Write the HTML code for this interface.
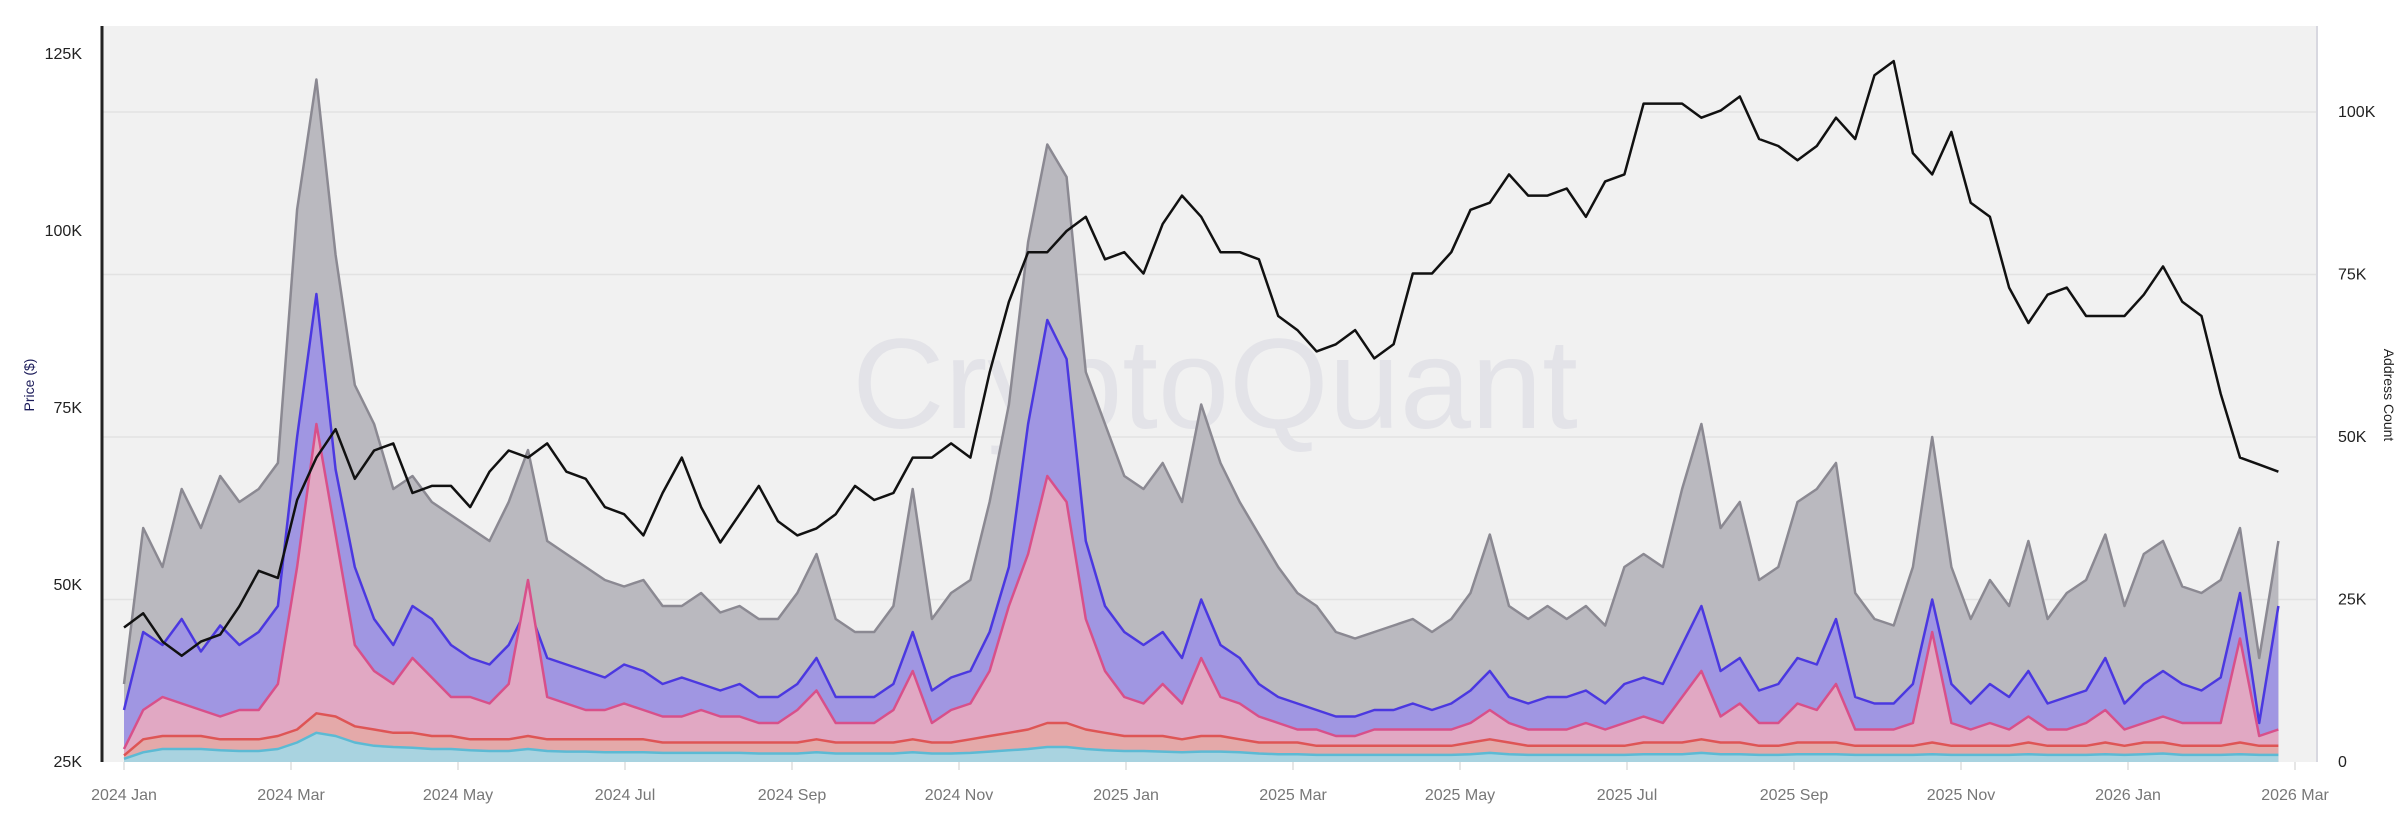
<!DOCTYPE html>
<html><head><meta charset="utf-8"><style>
html,body{margin:0;padding:0;background:#fff;}
svg{display:block;font-family:"Liberation Sans",sans-serif;}
</style></head><body>
<svg id="chart" width="2403" height="814" xmlns="http://www.w3.org/2000/svg">
<rect x="102" y="26" width="2215" height="736" fill="#f1f1f1"/>
<g id="grid"></g>
<text x="1215" y="428" text-anchor="middle" font-size="128" fill="#e3e3e8" font-family="Liberation Sans, sans-serif">CryptoQuant</text>
<g id="areas"></g>
<g id="priceg"></g>
<line x1="102" y1="26" x2="102" y2="762" stroke="#222" stroke-width="3"/>
<line x1="2317" y1="26" x2="2317" y2="762" stroke="#d8d8e0" stroke-width="2"/>
<g id="axes"></g>
<text transform="translate(34,385) rotate(-90)" text-anchor="middle" font-size="14" fill="#1c1c5a">Price ($)</text>
<text transform="translate(2384,395) rotate(90)" text-anchor="middle" font-size="14" fill="#222">Address Count</text>
</svg>
<script>
const NS="http://www.w3.org/2000/svg";
const xTickLabels=["2024 Jan","2024 Mar","2024 May","2024 Jul","2024 Sep","2024 Nov","2025 Jan","2025 Mar","2025 May","2025 Jul","2025 Sep","2025 Nov","2026 Jan","2026 Mar"];
const priceTicks=[25,50,75,100,125];
const countTicks=[0,25,50,75,100];
const price=[44,46,42,40,42,43,47,52,51,62,68,72,65,69,70,63,64,64,61,66,69,68,70,66,65,61,60,57,63,68,61,56,60,64,59,57,58,60,64,62,63,68,68,70,68,80,90,97,97,100,102,96,97,94,101,105,102,97,97,96,88,86,83,84,86,82,84,94,94,97,103,104,108,105,105,106,102,107,108,118,118,118,116,117,119,113,112,110,112,116,113,122,124,111,108,114,104,102,92,87,91,92,88,88,88,91,95,90,88,77,68,67,66];
const grayTop=[12,36,30,42,36,44,40,42,46,85,105,78,58,52,42,44,40,38,36,34,40,48,34,32,30,28,27,28,24,24,26,23,24,22,22,26,32,22,20,20,24,42,22,26,28,40,55,80,95,90,60,52,44,42,46,40,55,46,40,35,30,26,24,20,19,20,21,22,20,22,26,35,24,22,24,22,24,21,30,32,30,42,52,36,40,28,30,40,42,46,26,22,21,30,50,30,22,28,24,34,22,26,28,35,24,32,34,27,26,28,36,16,34];
const blueTop=[8,20,18,22,17,21,18,20,24,50,72,45,30,22,18,24,22,18,16,15,18,24,16,15,14,13,15,14,12,13,12,11,12,10,10,12,16,10,10,10,12,20,11,13,14,20,30,52,68,62,34,24,20,18,20,16,25,18,16,12,10,9,8,7,7,8,8,9,8,9,11,14,10,9,10,10,11,9,12,13,12,18,24,14,16,11,12,16,15,22,10,9,9,12,25,12,9,12,10,14,9,10,11,16,9,12,14,12,11,13,26,6,24];
const pinkTop=[2,8,10,9,8,7,8,8,12,30,52,35,18,14,12,16,13,10,10,9,12,28,10,9,8,8,9,8,7,7,8,7,7,6,6,8,11,6,6,6,8,14,6,8,9,14,24,32,44,40,22,14,10,9,12,9,16,10,9,7,6,5,5,4,4,5,5,5,5,5,6,8,6,5,5,5,6,5,6,7,6,10,14,7,9,6,6,9,8,12,5,5,5,6,20,6,5,6,5,7,5,5,6,8,5,6,7,6,6,6,19,4,5];
const redTop=[1,3.5,4,4,4,3.5,3.5,3.5,4,5,7.5,7,5.5,5,4.5,4.5,4,4,3.5,3.5,3.5,4,3.5,3.5,3.5,3.5,3.5,3.5,3,3,3,3,3,3,3,3,3.5,3,3,3,3,3.5,3,3,3.5,4,4.5,5,6,6,5,4.5,4,4,4,3.5,4,4,3.5,3,3,3,2.5,2.5,2.5,2.5,2.5,2.5,2.5,2.5,3,3.5,3,2.5,2.5,2.5,2.5,2.5,2.5,3,3,3,3.5,3,3,2.5,2.5,3,3,3,2.5,2.5,2.5,2.5,3,2.5,2.5,2.5,2.5,3,2.5,2.5,2.5,3,2.5,3,3,2.5,2.5,2.5,3,2.5,2.5];
const cyanTop=[0.5,1.5,2,2,2,1.8,1.7,1.7,2,3,4.5,4,3,2.5,2.3,2.2,2,2,1.8,1.7,1.7,2,1.7,1.6,1.6,1.5,1.5,1.5,1.4,1.4,1.4,1.4,1.4,1.3,1.3,1.3,1.5,1.3,1.3,1.3,1.3,1.5,1.3,1.3,1.4,1.6,1.8,2,2.3,2.3,2,1.8,1.7,1.7,1.6,1.5,1.6,1.6,1.5,1.3,1.2,1.2,1.1,1.1,1.1,1.1,1.1,1.1,1.1,1.1,1.2,1.4,1.2,1.1,1.1,1.1,1.1,1.1,1.1,1.2,1.2,1.2,1.4,1.2,1.2,1.1,1.1,1.2,1.2,1.2,1.1,1.1,1.1,1.1,1.2,1.1,1.1,1.1,1.1,1.2,1.1,1.1,1.1,1.2,1.1,1.2,1.3,1.1,1.1,1.1,1.2,1.1,1.1];

const X0=124, DAYPX=2.748;
const xOfWeek=w=>X0+w*7*DAYPX;
const yPrice=p=>762-(p-25)*177/25;
const yCount=v=>762-v*162.5/25;
const svg=document.getElementById('chart');
function mk(tag,attrs,parent){const e=document.createElementNS(NS,tag);for(const k in attrs)e.setAttribute(k,attrs[k]);parent.appendChild(e);return e;}

const grid=document.getElementById('grid');
countTicks.forEach(v=>{ if(v===0)return;
  const l=mk('line',{x1:102,x2:2317,y1:yCount(v),y2:yCount(v),stroke:'#e2e2e2','stroke-width':1.5},grid);
  
  
});
const axes=document.getElementById('axes');
priceTicks.forEach(p=>{
  const t=mk('text',{x:82,y:yPrice(p)+5,'text-anchor':'end','font-size':16,fill:'#222'},axes);
  t.textContent=p+'K';
  
  
});
countTicks.forEach(v=>{
  const t=mk('text',{x:2338,y:yCount(v)+5,'text-anchor':'start','font-size':16,fill:'#222'},axes);
  t.textContent=v===0?'0':v+'K';
  
  
});
xTickLabels.forEach((s,i)=>{
  const x=X0+i*2171/13;
  const t=mk('text',{x:x,y:800,'text-anchor':'middle','font-size':16,fill:'#777'},axes);
  t.textContent=s;
  
  
  mk('line',{x1:x,x2:x,y1:762,y2:770,stroke:'#ccc'},axes);
});

const areas=document.getElementById('areas');
const layers=[
 ['gray-band',grayTop,'#bab9bf','#8b8992'],
 ['blue-band',blueTop,'#a096e2','#4b38e0'],
 ['pink-band',pinkTop,'#e1a8c3','#d8508a'],
 ['red-band',redTop,'#e4a9a9','#de5555'],
 ['cyan-band',cyanTop,'#a9d3e0','#5cbad4']
];
layers.forEach(([name,arr,fill,stroke])=>{
  let line='';
  arr.forEach((v,i)=>{line+=(i?'L':'M')+xOfWeek(i).toFixed(1)+','+yCount(v).toFixed(1);});
  const area=line+'L'+xOfWeek(arr.length-1).toFixed(1)+',762L'+xOfWeek(0).toFixed(1)+',762Z';
  const a=mk('path',{d:area,fill:fill},areas);
  
  
  const l=mk('path',{d:line,fill:'none',stroke:stroke,'stroke-width':2.5,'stroke-linejoin':'round'},areas);
  
  
});
const pg=document.getElementById('priceg');
let pd='';
price.forEach((p,i)=>{pd+=(i?'L':'M')+xOfWeek(i).toFixed(1)+','+yPrice(p).toFixed(1);});
const pl=mk('path',{d:pd,fill:'none',stroke:'#111','stroke-width':2.5,'stroke-linejoin':'round'},pg);


</script>
</body></html>
